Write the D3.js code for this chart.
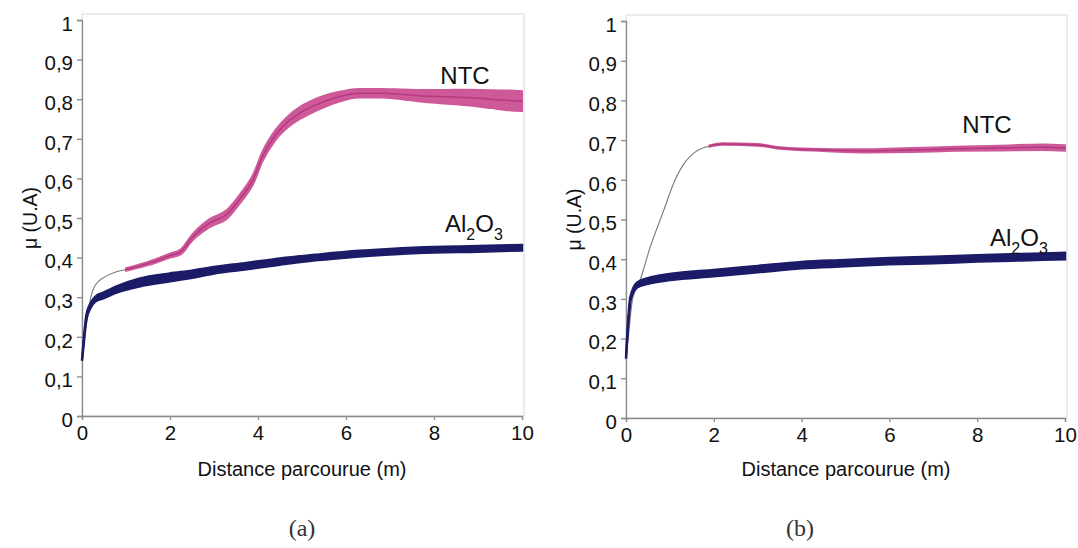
<!DOCTYPE html>
<html><head><meta charset="utf-8">
<script src="https://cdn.jsdelivr.net/npm/d3@7"></script>
<style>body{margin:0;background:#fff}svg{display:block}text{font-family:'Liberation Sans',Arial,sans-serif}</style>
</head><body>
<svg id="c" width="1078" height="548"></svg>
<script>
// ---- data ----
const xTicks = [0, 2, 4, 6, 8, 10];
const yTicks = [0, 0.1, 0.2, 0.3, 0.4, 0.5, 0.6, 0.7, 0.8, 0.9, 1];
const yTickLabels = ["0", "0,1", "0,2", "0,3", "0,4", "0,5", "0,6", "0,7", "0,8", "0,9", "1"];
const xTitle = "Distance parcourue (m)";
const yTitle = "μ (U.A)";
const captions = ["(a)", "(b)"];

// Panel (a)
const ntcA_x = [0, 0.05, 0.1, 0.2, 0.3, 0.5, 0.8, 1.0, 1.5, 2.0, 2.25, 2.5, 2.9, 3.3, 3.6, 3.9, 4.1, 4.4, 4.7, 4.95, 5.3, 5.8, 6.3, 6.8, 7.3, 7.8, 8.3, 8.8, 9.3, 9.7, 10];
const ntcA_y = [0.14, 0.2, 0.23, 0.3, 0.33, 0.35, 0.365, 0.37, 0.385, 0.405, 0.415, 0.45, 0.487, 0.51, 0.55, 0.6, 0.655, 0.71, 0.745, 0.765, 0.785, 0.805, 0.815, 0.815, 0.812, 0.808, 0.806, 0.804, 0.8, 0.797, 0.795];
const ntcA_spread = [0, 0, 0, 0, 0, 0, 0.004, 0.006, 0.008, 0.01, 0.012, 0.015, 0.02, 0.022, 0.022, 0.024, 0.024, 0.025, 0.028, 0.03, 0.03, 0.025, 0.022, 0.022, 0.025, 0.03, 0.035, 0.04, 0.045, 0.05, 0.05];
const alA_x = [0, 0.05, 0.1, 0.2, 0.3, 0.5, 0.8, 1.3, 2.0, 2.5, 3.0, 3.7, 4.5, 5.3, 6.3, 7.0, 8.0, 9.0, 10];
const alA_y = [0.14, 0.2, 0.25, 0.28, 0.295, 0.305, 0.32, 0.337, 0.35, 0.358, 0.368, 0.378, 0.39, 0.4, 0.41, 0.415, 0.42, 0.422, 0.425];
const alA_spread = [0, 0.01, 0.01, 0.012, 0.012, 0.014, 0.016, 0.02, 0.02, 0.018, 0.016, 0.016, 0.016, 0.014, 0.014, 0.014, 0.014, 0.014, 0.014];

// Panel (b)
const ntcB_x = [0, 0.05, 0.15, 0.3, 0.55, 0.85, 1.1, 1.35, 1.55, 1.9, 2.2, 3.0, 3.5, 4.5, 5.5, 6.5, 7.5, 8.5, 9.5, 10];
const ntcB_y = [0.15, 0.2, 0.3, 0.34, 0.43, 0.52, 0.595, 0.645, 0.668, 0.685, 0.69, 0.688, 0.68, 0.675, 0.673, 0.675, 0.678, 0.68, 0.682, 0.68];
const ntcB_spread = [0, 0, 0, 0, 0, 0, 0, 0, 0, 0.003, 0.004, 0.004, 0.004, 0.005, 0.008, 0.01, 0.01, 0.012, 0.014, 0.014];
const alB_x = [0, 0.05, 0.1, 0.25, 0.5, 1.0, 2.0, 3.0, 4.0, 5.0, 6.0, 7.0, 8.0, 9.0, 10];
const alB_y = [0.15, 0.24, 0.3, 0.335, 0.345, 0.355, 0.365, 0.375, 0.385, 0.39, 0.395, 0.398, 0.402, 0.405, 0.408];
const alB_spread = [0, 0.01, 0.01, 0.012, 0.014, 0.015, 0.016, 0.016, 0.016, 0.016, 0.016, 0.016, 0.016, 0.016, 0.016];

// ---- layout / style ----
const panels = [
  { x0: 82, x1: 522, y0: 416, y1: 20, ntc: [ntcA_x, ntcA_y, ntcA_spread], al: [alA_x, alA_y, alA_spread],
    pinkFrom: 0.9, ntcLabel: [465, 84], alLabel: [445, 232], cap: 302, yTitleX: 30, xTitleX: 302 },
  { x0: 626, x1: 1065, y0: 418, y1: 21, ntc: [ntcB_x, ntcB_y, ntcB_spread], al: [alB_x, alB_y, alB_spread],
    pinkFrom: 1.8, ntcLabel: [987, 133], alLabel: [990, 246], cap: 800, yTitleX: 574, xTitleX: 846 }
];
const pink = "#c8488f", navy = "#1b1b68";

const svg = d3.select("#c");

panels.forEach((p, i) => {
  const x = d3.scaleLinear().domain([0, 10]).range([p.x0, p.x1]);
  const y = d3.scaleLinear().domain([0, 1]).range([p.y0, p.y1]);
  const g = svg.append("g");

  // plot area frame
  g.append("rect").attr("x", p.x0).attr("y", p.y1 - 6).attr("width", p.x1 - p.x0 + 2).attr("height", p.y0 - p.y1 + 6)
    .attr("fill", "none").attr("stroke", "#e6e6e6").attr("stroke-width", 1.5);

  // axes
  const yAxis = d3.axisLeft(y).tickValues(yTicks).tickSize(5).tickFormat((d, k) => yTickLabels[k]);
  const ya = g.append("g").attr("transform", `translate(${p.x0},0)`).call(yAxis);
  const xAxis = d3.axisBottom(x).tickValues(xTicks).tickSize(4).tickFormat(d => d);
  const xa = g.append("g").attr("transform", `translate(0,${p.y0})`).call(xAxis);
  [ya, xa].forEach(a => {
    a.attr("font-family", null).attr("font-size", null);
    a.select(".domain").attr("stroke", "#8a8a8a").attr("stroke-width", 1.3);
    a.selectAll(".tick line").attr("stroke", "#8a8a8a").attr("stroke-width", 1.3);
    a.selectAll("text").style("font-size", "20.5px").attr("fill", "#111");
  });
  ya.selectAll("text").attr("x", -9).attr("dy", "0.5em");
  xa.selectAll("text").attr("y", 8).attr("dy", "0.78em");

  // series helpers
  function rows(s) { return s[0].map((v, k) => ({ x: v, y: s[1][k], s: s[2][k] })); }
  const line = d3.line().x(d => x(d.x)).y(d => y(d.y)).curve(d3.curveMonotoneX);
  const band = d3.area().x(d => x(d.x)).y0(d => y(d.y - d.s / 2)).y1(d => y(d.y + d.s / 2)).curve(d3.curveMonotoneX);

  // NTC: thin grey start, then pink band
  const ntc = rows(p.ntc);
  g.append("path").attr("d", line(ntc)).attr("fill", "none").attr("stroke", "#7a7a7a").attr("stroke-width", 1.1);
  const ntcP = ntc.filter(d => d.x >= p.pinkFrom);
  g.append("path").attr("d", band(ntcP)).attr("fill", pink).attr("stroke", pink).attr("stroke-width", 2).attr("opacity", 0.9);
  g.append("path").attr("d", line(ntcP)).attr("fill", "none").attr("stroke", "#b63a80").attr("stroke-width", 1.5);

  // Al2O3 band
  const al = rows(p.al);
  g.append("path").attr("d", band(al)).attr("fill", navy).attr("stroke", navy).attr("stroke-width", 2.5);
  g.append("path").attr("d", line(al.slice(0, 3))).attr("fill", "none").attr("stroke", navy).attr("stroke-width", 2);

  // labels
  g.append("text").attr("x", p.ntcLabel[0]).attr("y", p.ntcLabel[1]).attr("text-anchor", "middle")
    .style("font-size", "24px").attr("fill", "#111").text("NTC");
  const t = g.append("text").attr("x", p.alLabel[0]).attr("y", p.alLabel[1])
    .style("font-size", "24px").attr("fill", "#111");
  t.append("tspan").text("Al");
  t.append("tspan").style("font-size", "16px").attr("dy", 8).text("2");
  t.append("tspan").attr("dy", -8).text("O");
  t.append("tspan").style("font-size", "16px").attr("dy", 8).text("3");

  // axis titles
  g.append("text").attr("transform", `translate(${p.yTitleX},${(p.y0 + p.y1) / 2}) rotate(-90)`)
    .attr("text-anchor", "middle").attr("dy", "0.35em").style("font-size", "19.5px").attr("fill", "#111").text(yTitle);
  g.append("text").attr("x", p.xTitleX).attr("y", 476).attr("text-anchor", "middle")
    .style("font-size", "20px").attr("fill", "#111").text(xTitle);

  // caption
  g.append("text").attr("x", p.cap).attr("y", 536).attr("text-anchor", "middle")
    .style("font-family", "'Liberation Serif','DejaVu Serif',serif").style("font-size", "24px").attr("fill", "#333").text(captions[i]);
});
</script>
</body></html>
